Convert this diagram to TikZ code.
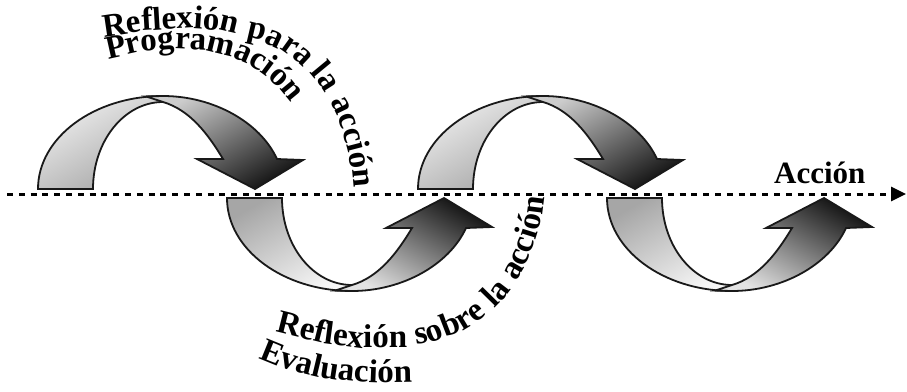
\documentclass[tikz,border=0pt]{standalone}
\usepackage{fontspec}
\setmainfont{Liberation Serif}
\usetikzlibrary{decorations.text,arrows.meta}
\newcommand{\lblfont}{\bfseries\fontsize{33}{33}\selectfont}
\newcommand{\gap}[1]{\rule{#1pt}{0pt}}
\newcommand{\twarrow}[4]{%
  \begin{scope}[shift={(#1,#2)}, yscale=#3]
    \path[#4L] (0,0) .. controls (0,51.4) and (56,93) .. (125,93) -- (125,87)
       .. controls (86.3,87) and (55,48) .. (55,0) -- cycle;
    \path[#4R] (108,92.6) -- (125,93) .. controls (175,93) and (222,67) .. (239,30) -- (265,29)
       -- (217,0) -- (159,30) -- (185,30) .. controls (170,55) and (152,79) .. (125,87) -- cycle;
  \end{scope}}
\tikzset{
  ribbon/.style={draw=black!90, line width=1.8pt, line join=miter},
  topL/.style={ribbon, top color=gray!12, bottom color=gray!70, shading angle=30},
  topR/.style={ribbon, top color=gray!40, bottom color=black!92, shading angle=30},
  botL/.style={ribbon, top color=gray!70, bottom color=gray!8, shading angle=30},
  botR/.style={ribbon, top color=black!92, bottom color=gray!22, shading angle=-30},
  dashline/.style={line width=3pt, dash pattern=on 6pt off 5.8pt, -{Triangle[length=15pt,width=14pt]}},
  lbl/.style={font=\bfseries\fontsize{31}{31}\selectfont, inner sep=0pt}
}
\begin{document}
\begin{tikzpicture}[x=1pt,y=-1pt]
\useasboundingbox (0,0) rectangle (907,391);
\fill[white] (0,0) rectangle (907,391);
% ribbons
\twarrow{38}{189}{-1}{top}
\twarrow{418}{189}{-1}{top}
\twarrow{227}{198}{1}{bot}
\twarrow{607}{198}{1}{bot}
% action axis
\coordinate (axstart) at (7,194);
\coordinate (axend) at (906,194);
\draw[dashline] (axstart) -- (axend);
\node[lbl, anchor=base west] (accion) at (774,183) {Acción};
% curved labels
{\lblfont
\path[decorate, decoration={text along path,
    text={Reflexión{\gap{10}}para{\gap{8}}la{\gap{10}}acción}}]
  (104,37) -- (146.5,30.7) -- (186.2,28.4) -- (222.9,30.9) -- (255.8,38.6)
  -- (284.8,52.1) -- (297.6,61.3) -- (309.4,72.2) -- (319.9,84.9) -- (329.2,99.4)
  -- (337.2,115.9) -- (343.8,134.4) -- (349.1,154.9) -- (352.9,177.7)
  -- (355.2,202.7) -- (356,230);
\path[decorate, decoration={text along path, text={Programación}}]
  (108,59) -- (141.1,51.6) -- (173.1,48.6) -- (203.2,50) -- (231.1,56.8)
  -- (244.1,62.3) -- (256.3,69.1) -- (267.6,77.5) -- (278.1,87.5)
  -- (287.6,99) -- (296,112.3) -- (309.8,144);
\path[decorate, decoration={text along path,
    text={Reflexión{\gap{10}}sobre{\gap{10}}la{\gap{9}}acción}}]
  (275,331.5) -- (319.2,342.5) -- (359.8,347.9) -- (398,347.9) -- (433.2,341.8)
  -- (464.9,329.6) -- (479.1,321) -- (492.3,310.7) -- (504.2,298.6)
  -- (514.8,284.7) -- (524.1,268.9) -- (531.9,251.2) -- (538.1,231.4)
  -- (542.8,209.7) -- (545.8,185.9) -- (547,160);
\path[decorate, decoration={text along path, text={Evaluación}}]
  (258,358) -- (277.9,366.1) -- (297.2,372.2) -- (316.3,376.8) -- (335.6,379.8)
  -- (355.4,381.8) -- (375.8,382.6) -- (397.2,382.6) -- (419.8,382.2)
  -- (444,381.2) -- (470,380);
}
\end{tikzpicture}
\end{document}
